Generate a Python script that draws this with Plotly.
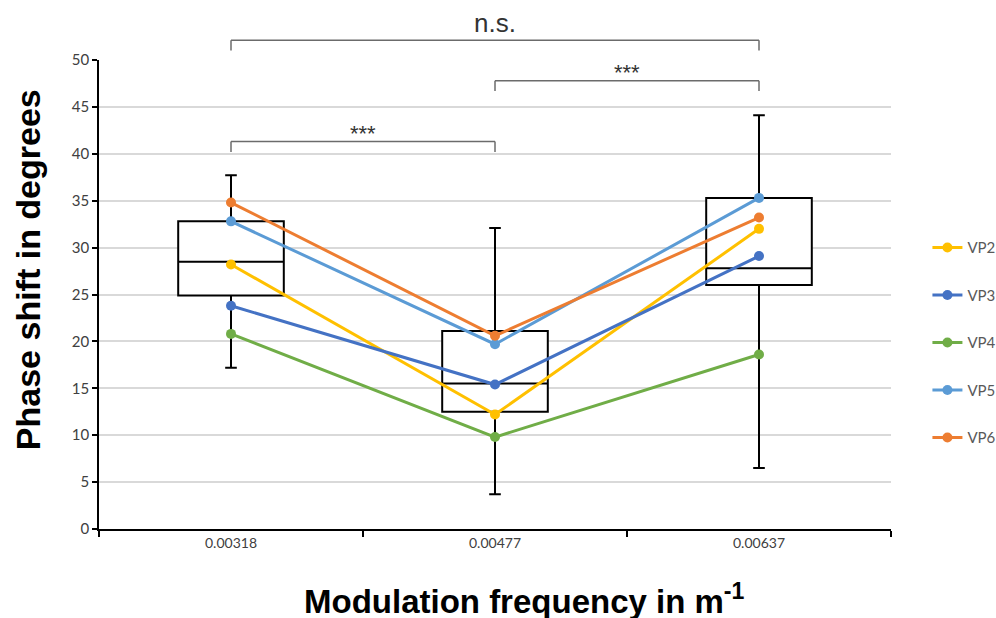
import plotly.graph_objects as go

categories = ["0.00318", "0.00477", "0.00637"]

series_names = ["VP2", "VP3", "VP4", "VP5", "VP6"]
vp2 = [28.2, 12.2, 32.0]
vp3 = [23.8, 15.4, 29.1]
vp4 = [20.8, 9.8, 18.6]
vp5 = [32.8, 19.7, 35.3]
vp6 = [34.8, 20.6, 33.2]
series_colors = ["#FFC000", "#4472C4", "#70AD47", "#5B9BD5", "#ED7D31"]

box_q1 = [24.9, 12.5, 26.0]
box_median = [28.5, 15.5, 27.8]
box_q3 = [32.8, 21.1, 35.3]
whisker_low = [17.2, 3.7, 6.5]
whisker_high = [37.7, 32.1, 44.1]

# significance brackets: (from category index, to category index, label, level)
bracket_from = [0, 1, 0]
bracket_to = [2, 2, 1]
bracket_labels = ["n.s.", "***", "***"]
bracket_levels = [52.1, 47.8, 41.3]

y_ticks = [0, 5, 10, 15, 20, 25, 30, 35, 40, 45, 50]
Y_MAX = 50

x_title = "<b>Modulation frequency in m<sup>-1</sup></b>"
y_title = "<b>Phase shift in degrees</b>"

fig = go.Figure()

fig.add_trace(go.Box(
    x=categories, q1=box_q1, median=box_median, q3=box_q3,
    lowerfence=whisker_low, upperfence=whisker_high,
    fillcolor="white", line=dict(color="black", width=2),
    width=0.4, whiskerwidth=0.11, boxpoints=False,
    showlegend=False, hoverinfo="skip"))

for name, vals, col in zip(series_names, [vp2, vp3, vp4, vp5, vp6], series_colors):
    fig.add_trace(go.Scatter(
        x=categories, y=vals, name=name, mode="lines+markers",
        line=dict(color=col, width=3), marker=dict(color=col, size=10),
        legendgroup=name))

shapes = []
annotations = []
drop = 1.1
for a, b, lab, lev in zip(bracket_from, bracket_to, bracket_labels, bracket_levels):
    ly = lev / Y_MAX
    dy = (lev - drop) / Y_MAX
    style = dict(color="#6b6b6b", width=1.5)
    shapes.append(dict(type="line", xref="x", yref="paper", x0=a, x1=b, y0=ly, y1=ly, line=style))
    shapes.append(dict(type="line", xref="x", yref="paper", x0=a, x1=a, y0=ly, y1=dy, line=style))
    shapes.append(dict(type="line", xref="x", yref="paper", x0=b, x1=b, y0=ly, y1=dy, line=style))
    big = lab == "n.s."
    annotations.append(dict(
        x=(a + b) / 2, y=ly, xref="x", yref="paper", text=lab, showarrow=False,
        yanchor="bottom", yshift=0 if big else -6,
        font=dict(size=26 if big else 22, color="#333333", family="Liberation Sans")))

# axis titles as annotations (positioned like the original)
annotations.append(dict(
    text=x_title, xref="paper", yref="paper", x=0.537, y=-0.149,
    xanchor="center", yanchor="middle", showarrow=False,
    font=dict(size=33, color="black", family="Liberation Sans")))
annotations.append(dict(
    text=y_title, xref="paper", yref="paper", x=-0.0896, y=0.552,
    xanchor="center", yanchor="middle", showarrow=False, textangle=-90,
    font=dict(size=34, color="black", family="Liberation Sans")))

fig.update_layout(
    width=996, height=618,
    margin=dict(l=99, r=105, t=60, b=89, autoexpand=False),
    paper_bgcolor="white", plot_bgcolor="white",
    font=dict(family="Liberation Sans", color="#595959"),
    showlegend=True,
    legend=dict(x=1.046, xanchor="left", y=0.397, yanchor="middle",
                font=dict(size=15, color="#595959", family="Lato"),
                tracegroupgap=25, bgcolor="rgba(0,0,0,0)"),
    shapes=shapes, annotations=annotations,
    xaxis=dict(
        type="category", range=[-0.5, 2.5], tickson="boundaries",
        ticks="outside", ticklen=6, tickcolor="black", tickwidth=1.5,
        showline=True, linecolor="black", linewidth=2, showgrid=False,
        automargin=False,
        tickfont=dict(size=14, color="#404040", family="Lato")),
    yaxis=dict(
        range=[0, Y_MAX], tickvals=y_ticks, ticks="outside", ticklen=5,
        tickcolor="black", tickwidth=1.5,
        showline=True, linecolor="black", linewidth=1.5,
        showgrid=True, gridcolor="#d9d9d9", gridwidth=1.5, zeroline=False,
        automargin=False,
        tickfont=dict(size=15, color="#404040", family="Lato")),
)

fig.write_html("out.html")
